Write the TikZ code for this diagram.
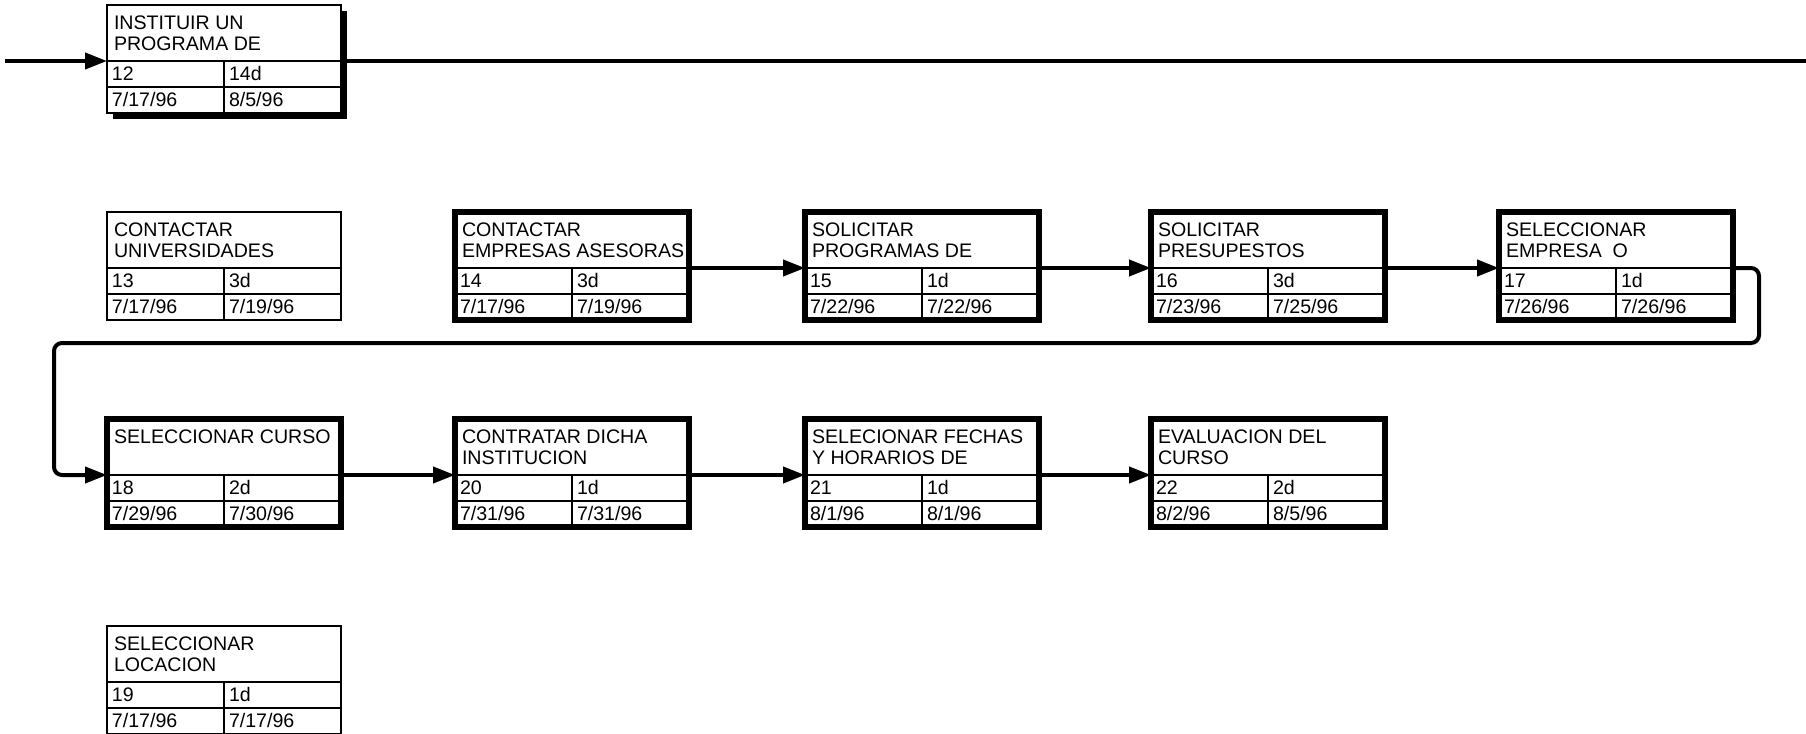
\documentclass[tikz,border=0pt]{standalone}
\usepackage{fontspec}
\setmainfont{Liberation Sans}
\usetikzlibrary{arrows.meta,shadows}

% one task box: style, name, top left corner, title, number, duration, start, end
\newcommand{\tarea}[8]{%
  \node[caja,#1] (c#2) at (#3) {};
  \node[titulo] (t#2) at (c#2.north west) {};
  \node[texto] (x#2) at (t#2.north west) {#4};
  \node[celda] (n#2) at (t#2.south west) {#5};
  \node[celda] (d#2) at (n#2.north east) {#6};
  \node[celda] (i#2) at (n#2.south west) {#7};
  \node[celda] (f#2) at (i#2.north east) {#8};
}

\begin{document}
\begin{tikzpicture}[x=0.5pt, y=-0.5pt,
    every node/.style = {inner sep=0pt, outer sep=0pt, font=\fontsize{9.8}{10.5}\selectfont},
    caja/.style={draw, line width=1pt, fill=white, anchor=north west,
      minimum width=117pt, minimum height=54pt},
    critica/.style={line width=2.6pt},
    sombra/.style={drop shadow={opacity=1, fill=black,
      shadow xshift=3pt, shadow yshift=-3pt}},
    titulo/.style={draw, line width=0.8pt, anchor=north west,
      minimum width=117pt, minimum height=28pt},
    texto/.style={anchor=north west, align=left, inner xsep=3.5pt, inner ysep=5.5pt},
    celda/.style={draw, line width=0.8pt, anchor=north west,
      minimum width=58.5pt, minimum height=13pt, text height=7pt, text depth=1pt,
      text width=53.5pt, align=left, inner xsep=2.5pt},
    flecha/.style={line width=2pt, -{Triangle[length=11pt,width=8pt]}},
    linea/.style={line width=2pt}]
    \useasboundingbox (0,0) rectangle (1806,734);
    \clip (0,0) rectangle (1806,734);
    \coordinate (ini) at (5,61);
    \coordinate (fin) at (1806,61);
    \coordinate (r) at (1759,343);
    \coordinate (l) at (54,343);
    \tarea{sombra}{12}{107,5}{INSTITUIR UN\\PROGRAMA DE}{12}{14d}{7/17/96}{8/5/96}
    \tarea{}{13}{107,212}{CONTACTAR\\UNIVERSIDADES}{13}{3d}{7/17/96}{7/19/96}
    \tarea{critica}{14}{455,212}{CONTACTAR\\EMPRESAS ASESORAS}{14}{3d}{7/17/96}{7/19/96}
    \tarea{critica}{15}{805,212}{SOLICITAR\\PROGRAMAS DE}{15}{1d}{7/22/96}{7/22/96}
    \tarea{critica}{16}{1151,212}{SOLICITAR\\PRESUPESTOS}{16}{3d}{7/23/96}{7/25/96}
    \tarea{critica}{17}{1499,212}{SELECCIONAR\\EMPRESA \ O}{17}{1d}{7/26/96}{7/26/96}
    \tarea{critica}{18}{107,419}{SELECCIONAR CURSO}{18}{2d}{7/29/96}{7/30/96}
    \tarea{critica}{20}{455,419}{CONTRATAR DICHA\\INSTITUCION}{20}{1d}{7/31/96}{7/31/96}
    \tarea{critica}{21}{805,419}{SELECIONAR FECHAS\\Y HORARIOS DE}{21}{1d}{8/1/96}{8/1/96}
    \tarea{critica}{22}{1151,419}{EVALUACION DEL\\CURSO}{22}{2d}{8/2/96}{8/5/96}
    \tarea{}{19}{107,626}{SELECCIONAR\\LOCACION}{19}{1d}{7/17/96}{7/17/96}
    \path[flecha]
        (ini) edge (t12.south west)
        (t14.south east) edge (t15.south west)
        (t15.south east) edge (t16.south west)
        (t16.south east) edge (t17.south west)
        (t18.south east) edge (t20.south west)
        (t20.south east) edge (t21.south west)
        (t21.south east) edge (t22.south west);
    \draw[linea] (t12.south east) -- (fin);
    \draw[flecha, rounded corners=4pt] (t17.south east) -| (r) -- (l) |- (t18.south west);
\end{tikzpicture}
\end{document}
